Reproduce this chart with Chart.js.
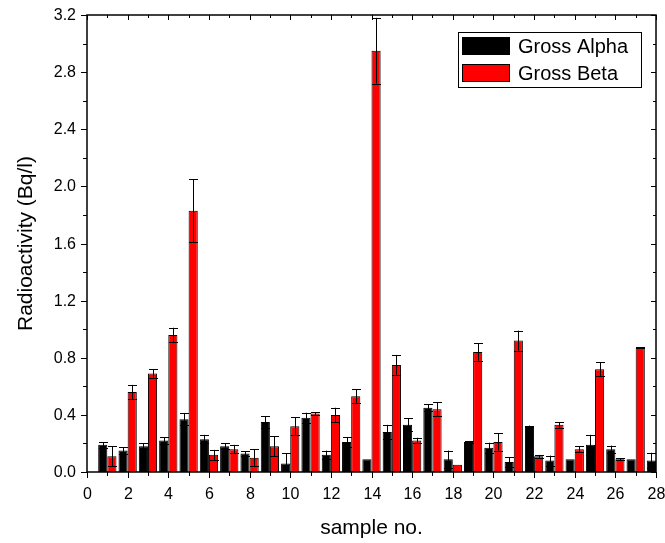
<!DOCTYPE html>
<html>
<head>
<meta charset="utf-8">
<script src="https://cdn.jsdelivr.net/npm/chart.js@4.4.1/dist/chart.umd.min.js"></script>
<style>
  html, body { margin: 0; padding: 0; background: #fff; }
  #wrap { width: 665px; height: 543px; position: relative; }
</style>
</head>
<body>
<div id="wrap"><canvas id="chart"></canvas></div>
<script>
// sample numbers and measured values (Bq/l)
const samples = [1, 2, 3, 4, 5, 6, 7, 8, 9, 10, 11, 12, 13, 14, 15, 16, 17, 18, 19, 20, 21, 22, 23, 24, 25, 26, 27, 28];
const alpha = [0.19, 0.15, 0.18, 0.22, 0.37, 0.23, 0.18, 0.13, 0.35, 0.06, 0.38, 0.12, 0.21, 0.09, 0.28, 0.33, 0.45, 0.09, 0.21, 0.17, 0.07, 0.32, 0.08, 0.09, 0.19, 0.16, 0.09, 0.08];
const alphaErr = [0.02, 0.025, 0.02, 0.025, 0.04, 0.03, 0.02, 0.015, 0.04, 0.07, 0.035, 0.03, 0.035, 0, 0.05, 0.045, 0.025, 0.06, 0.005, 0.035, 0.035, 0.005, 0.035, 0, 0.07, 0.025, 0, 0.055];
const beta = [0.11, 0.56, 0.69, 0.96, 1.83, 0.12, 0.16, 0.10, 0.18, 0.32, 0.41, 0.40, 0.53, 2.95, 0.75, 0.22, 0.44, 0.05, 0.84, 0.21, 0.92, 0.11, 0.33, 0.16, 0.72, 0.09, 0.87, null];
const betaErr = [0.07, 0.05, 0.03, 0.05, 0.22, 0.035, 0.03, 0.06, 0.07, 0.063, 0.01, 0.05, 0.05, 0.23, 0.07, 0.02, 0.05, 0, 0.06, 0.06, 0.07, 0.01, 0.02, 0.02, 0.047, 0.007, 0.004, null];

const FONT = '"Liberation Sans", Arial, sans-serif';

const toPoints = vals => samples.map((s, i) => ({ x: s, y: vals[i] }));

// error bars, axis frame, ticks, labels, titles and legend
const extras = {
  id: 'extras',
  afterDatasetsDraw(chart) {
    const { ctx, chartArea: a, scales: { y } } = chart;
    const errs = [alphaErr, betaErr];
    ctx.save();
    ctx.beginPath();
    ctx.rect(a.left, a.top - 4, a.right - a.left, a.bottom - a.top + 4);
    ctx.clip();
    ctx.strokeStyle = '#000';
    ctx.lineWidth = 1;
    chart.data.datasets.forEach((ds, di) => {
      chart.getDatasetMeta(di).data.forEach((bar, i) => {
        const v = ds.data[i].y, e = errs[di][i];
        if (v == null || !e) return;
        const x = Math.round(bar.x) + 0.5;
        const yt = y.getPixelForValue(v + e), yb = y.getPixelForValue(v - e);
        ctx.beginPath();
        ctx.moveTo(x, yt); ctx.lineTo(x, yb);
        ctx.moveTo(x - 4.5, Math.round(yt) + 0.5); ctx.lineTo(x + 4.5, Math.round(yt) + 0.5);
        ctx.moveTo(x - 4.5, Math.round(yb) + 0.5); ctx.lineTo(x + 4.5, Math.round(yb) + 0.5);
        ctx.stroke();
      });
    });
    ctx.restore();
  },
  afterDraw(chart) {
    const { ctx, chartArea: a, scales: { x, y } } = chart;
    ctx.save();
    ctx.strokeStyle = '#000';
    ctx.fillStyle = '#000';
    ctx.lineWidth = 1.5;
    ctx.strokeRect(a.left, a.top, a.right - a.left, a.bottom - a.top);
    ctx.lineWidth = 1;
    ctx.font = '16px ' + FONT;
    ctx.beginPath();
    for (let v = 0; v <= 28; v++) {
      const px = Math.round(x.getPixelForValue(v)) + 0.5;
      const major = v % 2 === 0;
      ctx.moveTo(px, a.bottom); ctx.lineTo(px, a.bottom + (major ? 6 : 4));
      ctx.moveTo(px, a.top); ctx.lineTo(px, a.top + (major ? 5 : 3));
      if (major) {
        ctx.textAlign = 'center'; ctx.textBaseline = 'middle';
        ctx.fillText(String(v), px, 495);
      }
    }
    for (let k = 0; k <= 16; k++) {
      const py = Math.round(y.getPixelForValue(k * 0.2)) + 0.5;
      const major = k % 2 === 0;
      ctx.moveTo(a.left, py); ctx.lineTo(a.left - (major ? 6 : 4), py);
      ctx.moveTo(a.right, py); ctx.lineTo(a.right - (major ? 5 : 3), py);
      if (major) {
        ctx.textAlign = 'right'; ctx.textBaseline = 'middle';
        ctx.fillText((k * 0.2).toFixed(1), 76, py);
      }
    }
    ctx.stroke();

    // axis titles
    ctx.font = '21px ' + FONT;
    ctx.textAlign = 'center';
    ctx.textBaseline = 'alphabetic';
    ctx.fillText('sample no.', (a.left + a.right) / 2, 534);
    ctx.save();
    ctx.translate(32, (a.top + a.bottom) / 2);
    ctx.rotate(-Math.PI / 2);
    ctx.fillText('Radioactivity (Bq/l)', 0, 0);
    ctx.restore();

    // legend
    ctx.font = '20px ' + FONT;
    ctx.strokeRect(458.5, 32.5, 183, 55);
    const items = [['Gross Alpha', '#000', 37], ['Gross Beta', '#ff0000', 64]];
    ctx.textAlign = 'left';
    items.forEach(([label, color, top]) => {
      ctx.fillStyle = color;
      ctx.fillRect(462, top, 48, 18);
      ctx.strokeRect(462.5, top + 0.5, 47, 17);
      ctx.fillStyle = '#000';
      ctx.fillText(label, 518, top + 16);
    });
    ctx.restore();
  }
};

new Chart(document.getElementById('chart'), {
  type: 'bar',
  data: {
    datasets: [
      { label: 'Gross Alpha', data: toPoints(alpha), backgroundColor: '#000', borderColor: '#000', borderWidth: 1 },
      { label: 'Gross Beta', data: toPoints(beta), backgroundColor: '#ff0000', borderColor: '#000', borderWidth: 1 },
    ],
  },
  options: {
    responsive: true,
    maintainAspectRatio: false,
    animation: false,
    layout: { padding: { top: 15, right: 9, left: 0, bottom: 0 } },
    plugins: { legend: { display: false }, tooltip: { enabled: false } },
    datasets: { bar: { categoryPercentage: 0.9, barPercentage: 1.0 } },
    scales: {
      x: {
        type: 'linear', min: 0, max: 28, offset: false,
        grid: { display: false, drawTicks: false, offset: false },
        border: { display: false },
        ticks: { display: false, stepSize: 1 },
        afterFit: s => { s.height = 71; },
      },
      y: {
        min: 0, max: 3.2,
        grid: { display: false, drawTicks: false },
        border: { display: false },
        ticks: { display: false, stepSize: 0.2 },
        afterFit: s => { s.width = 87; },
      },
    },
  },
  plugins: [extras],
});
</script>
</body>
</html>
